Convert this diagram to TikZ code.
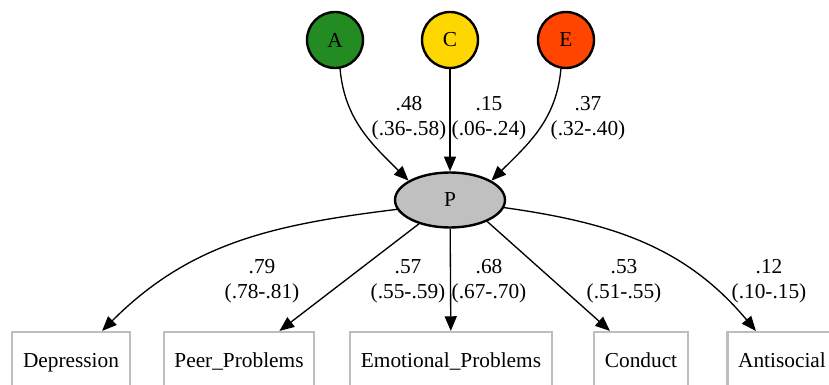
\documentclass[tikz,border=0pt]{standalone}
\usepackage{fontspec}
\setmainfont{Liberation Serif}
\usetikzlibrary{arrows.meta}
\usetikzlibrary{positioning}
\usetikzlibrary{shapes.geometric}

\definecolor{agreen}{HTML}{228B22}
\definecolor{cgold}{HTML}{FFD700}
\definecolor{ered}{HTML}{FF4500}
\definecolor{pgray}{HTML}{C0C0C0}
\definecolor{bgray}{HTML}{BEBEBE}

\begin{document}
\begin{tikzpicture}[x=0.75pt, y=0.75pt, font=\fontsize{16}{19}\selectfont,
    factor/.style={circle, draw, line width=1.8pt, minimum size=42pt, inner sep=0pt},
    latent/.style={ellipse, draw, line width=1.8pt, fill=pgray, minimum width=82.5pt, minimum height=41.25pt, inner sep=0pt},
    measure/.style={rectangle, draw=bgray, line width=1.6pt, minimum height=45pt, inner xsep=8pt, text height=11pt, text depth=3.5pt},
    load/.style={-{Triangle[length=11pt, width=9pt]}, line width=1pt},
    est/.style={align=center, inner sep=0pt}]
    \useasboundingbox (0,0) rectangle (829,-385);

    % genetic and environmental factors
    \node[factor, fill=agreen] (A) at (335,-40) {A};
    \node[factor, fill=cgold] (C) at (450,-40) {C};
    \node[factor, fill=ered] (E) at (566,-40) {E};

    \node[latent] (P) at (450,-200) {P};

    % observed scales
    \node[measure] (dep) at (71,-362) {Depression};
    \node[measure] (peer) at (239,-362) {Peer\_Problems};
    \node[measure] (emo) at (451,-362) {Emotional\_Problems};
    \node[measure] (cond) at (641,-362) {Conduct};
    \node[measure] (anti) at (782,-362) {Antisocial};

    \draw[load] (A.-80) to[out=-85, in=135] (P.155);
    \draw[load] (C) -- (P);
    \draw[load] (E.-100) to[out=-95, in=45] (P.25);

    \draw[load] (P.190) to[out=187, in=45] (dep.45);
    \draw[load] (P) -- (peer);
    \draw[load] (P) -- (emo);
    \draw[load] (P.-30) -- (cond.135);
    \draw[load] (P.-8) to[out=-8, in=130] (anti.130);

    % estimates
    \node[est] (lA) at (409,-118) {.48\\(.36-.58)};
    \node[est] (lC) at (489,-118) {.15\\(.06-.24)};
    \node[est] (lE) at (588,-118) {.37\\(.32-.40)};
    \node[est] (ldep) at (262,-281) {.79\\(.78-.81)};
    \node[est] (lpeer) at (408,-281) {.57\\(.55-.59)};
    \node[est] (lemo) at (489,-281) {.68\\(.67-.70)};
    \node[est] (lcond) at (624,-281) {.53\\(.51-.55)};
    \node[est] (lanti) at (769,-281) {.12\\(.10-.15)};
\end{tikzpicture}
\end{document}
